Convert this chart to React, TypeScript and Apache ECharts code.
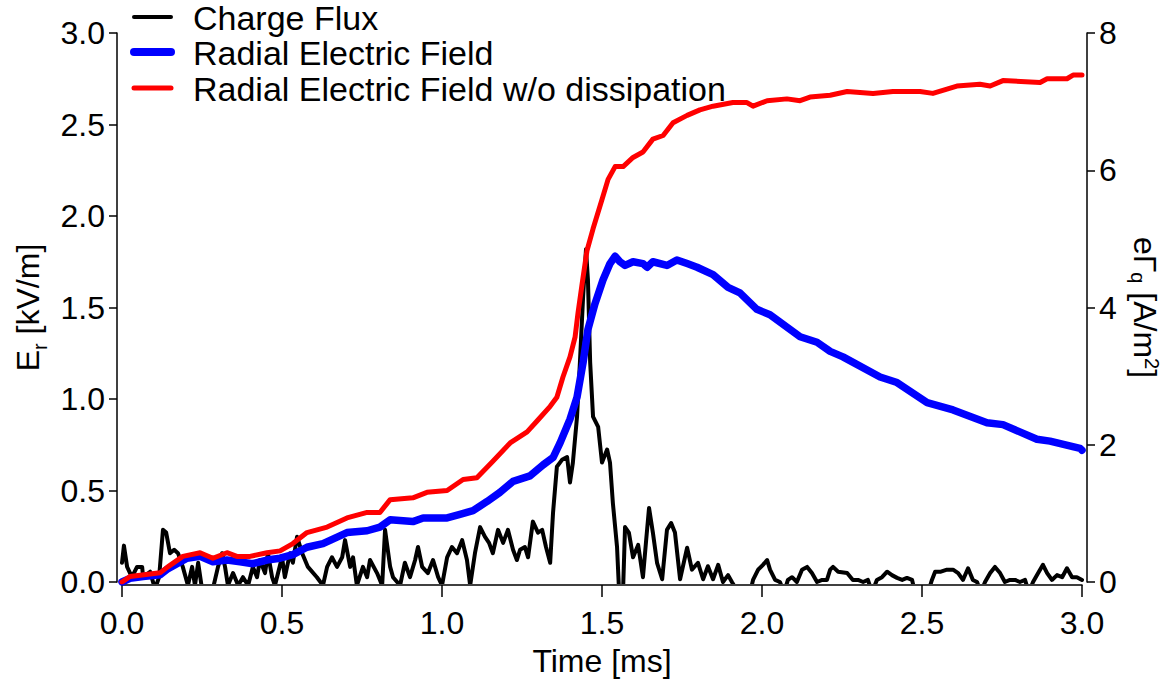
import React, { useEffect, useRef } from "react";
import * as echarts from "echarts";

// Charge flux eΓq [A/m²] vs time [ms] (right axis)
const fluxData: number[][] = [
  [0, 0.28], [0.006, 0.53], [0.016, 0.22], [0.031, 0.07], [0.047, 0.22], [0.063, 0.22], [0.066, 0.07], [0.088, 0.15],
  [0.103, -0.1], [0.116, 0.07], [0.128, 0.76], [0.138, 0.72], [0.15, 0.42], [0.163, 0.47], [0.175, 0.42], [0.19, 0.22],
  [0.206, -0.05], [0.219, 0.22], [0.228, -0.05], [0.238, 0.28], [0.25, -0.1], [0.284, -0.1], [0.3, 0.22], [0.313, 0.42],
  [0.322, 0.22], [0.331, -0.05], [0.347, 0.13], [0.363, -0.05], [0.378, 0.07], [0.394, -0.05], [0.409, 0.22], [0.422, 0.07],
  [0.431, 0.32], [0.447, 0.13], [0.456, 0.42], [0.469, 0.07], [0.478, -0.05], [0.5, 0.36], [0.509, 0.07], [0.525, 0.42],
  [0.534, 0.28], [0.547, 0.66], [0.563, 0.42], [0.581, 0.22], [0.609, 0.07], [0.628, -0.05], [0.641, 0.22], [0.656, 0.36],
  [0.672, 0.22], [0.688, 0.36], [0.697, 0.61], [0.713, 0.22], [0.722, 0.36], [0.734, -0.05], [0.753, 0.22], [0.766, 0.07],
  [0.775, 0.32], [0.797, 0.13], [0.813, -0.05], [0.822, 0.76], [0.838, 0.22], [0.847, 0.07], [0.869, -0.05], [0.884, 0.28],
  [0.9, 0.07], [0.916, 0.32], [0.925, 0.51], [0.938, 0.22], [0.956, 0.13], [0.972, 0.32], [0.988, 0.07], [1.0, -0.05],
  [1.016, 0.36], [1.031, 0.51], [1.047, 0.42], [1.063, 0.61], [1.078, 0.32], [1.088, -0.05], [1.103, 0.42], [1.119, 0.8],
  [1.134, 0.66], [1.147, 0.57], [1.159, 0.42], [1.175, 0.76], [1.191, 0.57], [1.206, 0.76], [1.222, 0.47], [1.234, 0.32],
  [1.244, 0.47], [1.259, 0.51], [1.269, 0.36], [1.284, 0.88], [1.3, 0.72], [1.313, 0.76], [1.325, 0.51], [1.338, 0.28],
  [1.347, 1.01], [1.359, 1.68], [1.375, 1.78], [1.391, 1.82], [1.4, 1.45], [1.409, 1.74], [1.422, 2.41], [1.431, 3.2],
  [1.441, 4.16], [1.45, 4.85], [1.456, 4.41], [1.463, 3.2], [1.472, 2.41], [1.488, 2.26], [1.5, 1.74], [1.516, 1.93],
  [1.525, 1.74], [1.534, 1.15], [1.547, 0.51], [1.553, -0.1], [1.566, -0.1], [1.572, 0.8], [1.584, 0.72], [1.597, 0.36],
  [1.613, 0.54], [1.628, 0.07], [1.638, 0.61], [1.647, 1.08], [1.659, 0.72], [1.672, 0.28], [1.688, 0.04], [1.703, 0.76],
  [1.716, 0.86], [1.728, 0.72], [1.744, 0.04], [1.766, 0.5], [1.781, 0.18], [1.8, 0.28], [1.816, 0.04], [1.831, 0.23],
  [1.847, 0.04], [1.863, 0.25], [1.878, 0], [1.894, 0.1], [1.906, 0], [1.925, -0.15], [1.963, -0.15], [1.972, 0.03],
  [1.988, 0.18], [2.003, 0.25], [2.016, 0.32], [2.025, 0.18], [2.041, 0.03], [2.056, 0], [2.069, -0.15], [2.081, 0.03],
  [2.094, 0.07], [2.109, 0], [2.125, 0.18], [2.141, 0.22], [2.156, 0.13], [2.172, 0], [2.188, 0.03], [2.203, 0.03],
  [2.213, 0.18], [2.222, 0.22], [2.238, 0.15], [2.266, 0.13], [2.284, 0.03], [2.3, 0.03], [2.316, 0], [2.331, 0.03],
  [2.344, -0.15], [2.359, 0.03], [2.375, 0.07], [2.391, 0.15], [2.406, 0.1], [2.422, 0.06], [2.438, 0.03], [2.453, 0.06],
  [2.469, 0.03], [2.478, -0.15], [2.519, -0.15], [2.531, 0.03], [2.541, 0.15], [2.559, 0.15], [2.578, 0.18], [2.597, 0.18],
  [2.613, 0.13], [2.628, 0.03], [2.644, 0.2], [2.659, 0.03], [2.672, 0], [2.684, -0.15], [2.697, 0], [2.713, 0.13],
  [2.728, 0.22], [2.744, 0.13], [2.759, 0], [2.775, 0.03], [2.791, 0.03], [2.806, 0], [2.822, 0.03], [2.834, -0.15],
  [2.847, 0], [2.863, 0.13], [2.878, 0.25], [2.891, 0.13], [2.906, 0.03], [2.922, 0.1], [2.938, 0.07], [2.953, 0.2],
  [2.969, 0.07], [2.984, 0.07], [3.0, 0.03],
];

// Radial electric field Er [kV/m] vs time [ms] (left axis)
const fieldData: number[][] = [
  [0, 0], [0.025, 0.02], [0.066, 0.03], [0.119, 0.04], [0.141, 0.07], [0.172, 0.1], [0.203, 0.13], [0.244, 0.14],
  [0.284, 0.11], [0.328, 0.12], [0.369, 0.11], [0.409, 0.1], [0.453, 0.12], [0.494, 0.13], [0.534, 0.15], [0.578, 0.19],
  [0.628, 0.21], [0.703, 0.27], [0.766, 0.28], [0.806, 0.3], [0.838, 0.34], [0.909, 0.33], [0.941, 0.35], [1.016, 0.35],
  [1.056, 0.37], [1.097, 0.39], [1.141, 0.44], [1.181, 0.49], [1.222, 0.55], [1.275, 0.58], [1.316, 0.64], [1.347, 0.68],
  [1.369, 0.76], [1.4, 0.89], [1.422, 1.01], [1.441, 1.2], [1.456, 1.38], [1.478, 1.52], [1.503, 1.65], [1.525, 1.74],
  [1.541, 1.78], [1.556, 1.75], [1.572, 1.73], [1.597, 1.75], [1.628, 1.74], [1.641, 1.72], [1.659, 1.75], [1.703, 1.73],
  [1.734, 1.76], [1.766, 1.74], [1.797, 1.72], [1.847, 1.68], [1.894, 1.61], [1.931, 1.58], [1.984, 1.49], [2.025, 1.46],
  [2.119, 1.34], [2.172, 1.31], [2.213, 1.26], [2.253, 1.23], [2.369, 1.12], [2.422, 1.09], [2.516, 0.98], [2.597, 0.94],
  [2.703, 0.87], [2.753, 0.86], [2.859, 0.78], [2.9, 0.77], [2.994, 0.73], [3.0, 0.72],
];

// Radial electric field without dissipation Er [kV/m] (left axis)
const fieldNoDissData: number[][] = [
  [0, 0], [0.025, 0.03], [0.119, 0.05], [0.141, 0.08], [0.19, 0.14], [0.244, 0.16], [0.284, 0.13], [0.328, 0.16],
  [0.359, 0.14], [0.4, 0.14], [0.453, 0.16], [0.494, 0.17], [0.534, 0.21], [0.578, 0.27], [0.641, 0.3], [0.703, 0.35],
  [0.766, 0.38], [0.806, 0.38], [0.838, 0.45], [0.909, 0.46], [0.953, 0.49], [1.016, 0.5], [1.066, 0.56], [1.109, 0.57],
  [1.159, 0.66], [1.213, 0.76], [1.266, 0.82], [1.297, 0.88], [1.338, 0.96], [1.359, 1.01], [1.378, 1.12], [1.4, 1.23],
  [1.416, 1.34], [1.425, 1.47], [1.438, 1.63], [1.453, 1.81], [1.472, 1.93], [1.5, 2.09], [1.519, 2.2], [1.541, 2.27],
  [1.566, 2.27], [1.597, 2.32], [1.628, 2.35], [1.659, 2.42], [1.691, 2.44], [1.722, 2.51], [1.766, 2.55], [1.806, 2.58],
  [1.847, 2.6], [1.909, 2.62], [1.953, 2.62], [1.972, 2.6], [2.016, 2.63], [2.078, 2.64], [2.119, 2.63], [2.15, 2.65],
  [2.213, 2.66], [2.266, 2.68], [2.347, 2.67], [2.409, 2.68], [2.494, 2.68], [2.534, 2.67], [2.609, 2.71], [2.681, 2.72],
  [2.713, 2.71], [2.753, 2.74], [2.869, 2.73], [2.891, 2.75], [2.953, 2.75], [2.972, 2.77], [3.0, 2.77],
];

const seriesNames = ["Charge Flux", "Radial Electric Field", "Radial Electric Field w/o dissipation"];
const seriesColors = ["#000000", "#0000ff", "#ff0000"];
const seriesWidths = [4, 7.5, 5];
const legendLineWidths = [4, 8, 5];

const FONT = "'Liberation Sans', Arial, Helvetica, sans-serif";

export default function App() {
  const ref = useRef<HTMLDivElement>(null);

  useEffect(() => {
    if (!ref.current) return;
    const chart = echarts.init(ref.current, undefined, { renderer: "svg" });
    const legendY = [17, 52, 88];
    const axisCommon = {
      axisLine: { show: true, onZero: false, lineStyle: { color: "#000", width: 1.5 } },
      axisTick: { show: true, inside: false, lineStyle: { color: "#000", width: 1.5 } },
      splitLine: { show: false },
    };
    const labelStyle = { fontSize: 32, color: "#000", fontFamily: FONT };
    const option: any = {
      animation: false,
      backgroundColor: "#ffffff",
      grid: { left: 122, right: 87, top: 33, bottom: 104, containLabel: false, outerBoundsMode: "none" },
      xAxis: {
        type: "value",
        min: 0,
        max: 3,
        interval: 0.5,
        offset: 3,
        ...axisCommon,
        axisTick: { ...axisCommon.axisTick, length: 12 },
        axisLabel: { ...labelStyle, margin: 22, formatter: (v: number) => v.toFixed(1) },
        name: "Time [ms]",
        nameLocation: "middle",
        nameGap: 60,
        nameTextStyle: { ...labelStyle },
      },
      yAxis: [
        {
          type: "value",
          position: "left",
          min: 0,
          max: 3,
          interval: 0.5,
          offset: 5,
          ...axisCommon,
          axisTick: { ...axisCommon.axisTick, length: 8 },
          axisLabel: { ...labelStyle, margin: 12, formatter: (v: number) => v.toFixed(1) },
          name: "{n|E}{sub|r}{n| [kV/m]}",
          nameLocation: "middle",
          nameRotate: 90,
          nameGap: 65,
          nameTextStyle: {
            rich: {
              n: { fontSize: 32, color: "#000", fontFamily: FONT, lineHeight: 44 },
              sub: { fontSize: 20, color: "#000", fontFamily: FONT, lineHeight: 14, verticalAlign: "bottom" },
            },
          },
        },
        {
          type: "value",
          position: "right",
          min: 0,
          max: 8,
          interval: 2,
          offset: 5,
          ...axisCommon,
          axisTick: { ...axisCommon.axisTick, length: 8 },
          axisLabel: { ...labelStyle, margin: 12, formatter: (v: number) => String(v) },
          name: "{n|eΓ}{sub|q}{n| [A/m}{sup|2}{n|]}",
          nameLocation: "middle",
          nameRotate: -90,
          nameGap: 36,
          nameTextStyle: {
            rich: {
              n: { fontSize: 32, color: "#000", fontFamily: FONT, lineHeight: 34 },
              sub: { fontSize: 20, color: "#000", fontFamily: FONT, lineHeight: 6, verticalAlign: "bottom" },
              sup: { fontSize: 20, color: "#000", fontFamily: FONT, lineHeight: 22, verticalAlign: "top" },
            },
          },
        },
      ],
      series: [
        {
          name: seriesNames[0],
          type: "line",
          yAxisIndex: 1,
          data: fluxData,
          showSymbol: false,
          clip: true,
          z: 1,
          lineStyle: { color: seriesColors[0], width: seriesWidths[0], cap: "round", join: "round" },
          itemStyle: { color: seriesColors[0] },
        },
        {
          name: seriesNames[1],
          type: "line",
          yAxisIndex: 0,
          data: fieldData,
          showSymbol: false,
          clip: true,
          z: 2,
          lineStyle: { color: seriesColors[1], width: seriesWidths[1], cap: "round", join: "round" },
          itemStyle: { color: seriesColors[1] },
        },
        {
          name: seriesNames[2],
          type: "line",
          yAxisIndex: 0,
          data: fieldNoDissData,
          showSymbol: false,
          clip: true,
          z: 3,
          lineStyle: { color: seriesColors[2], width: seriesWidths[2], cap: "round", join: "round" },
          itemStyle: { color: seriesColors[2] },
        },
      ],
      graphic: [
        ...seriesNames.map((_, i) => ({
          type: "line",
          silent: true,
          shape: { x1: 134, y1: legendY[i], x2: 171, y2: legendY[i] },
          style: { stroke: seriesColors[i], lineWidth: legendLineWidths[i], lineCap: "round" },
        })),
        ...seriesNames.map((name, i) => ({
          type: "text",
          silent: true,
          x: 193,
          y: legendY[i] + 1,
          style: {
            text: name,
            fontSize: 34,
            lineHeight: 30,
            fontFamily: FONT,
            fill: "#000",
            verticalAlign: "middle",
            textVerticalAlign: "middle",
          },
        })),
      ],
    };
    chart.setOption(option);
    return () => chart.dispose();
  }, []);

  return (
    <div
      ref={ref}
      style={{ position: "fixed", left: 0, top: 0, width: 1169, height: 686, background: "#fff" }}
    />
  );
}
